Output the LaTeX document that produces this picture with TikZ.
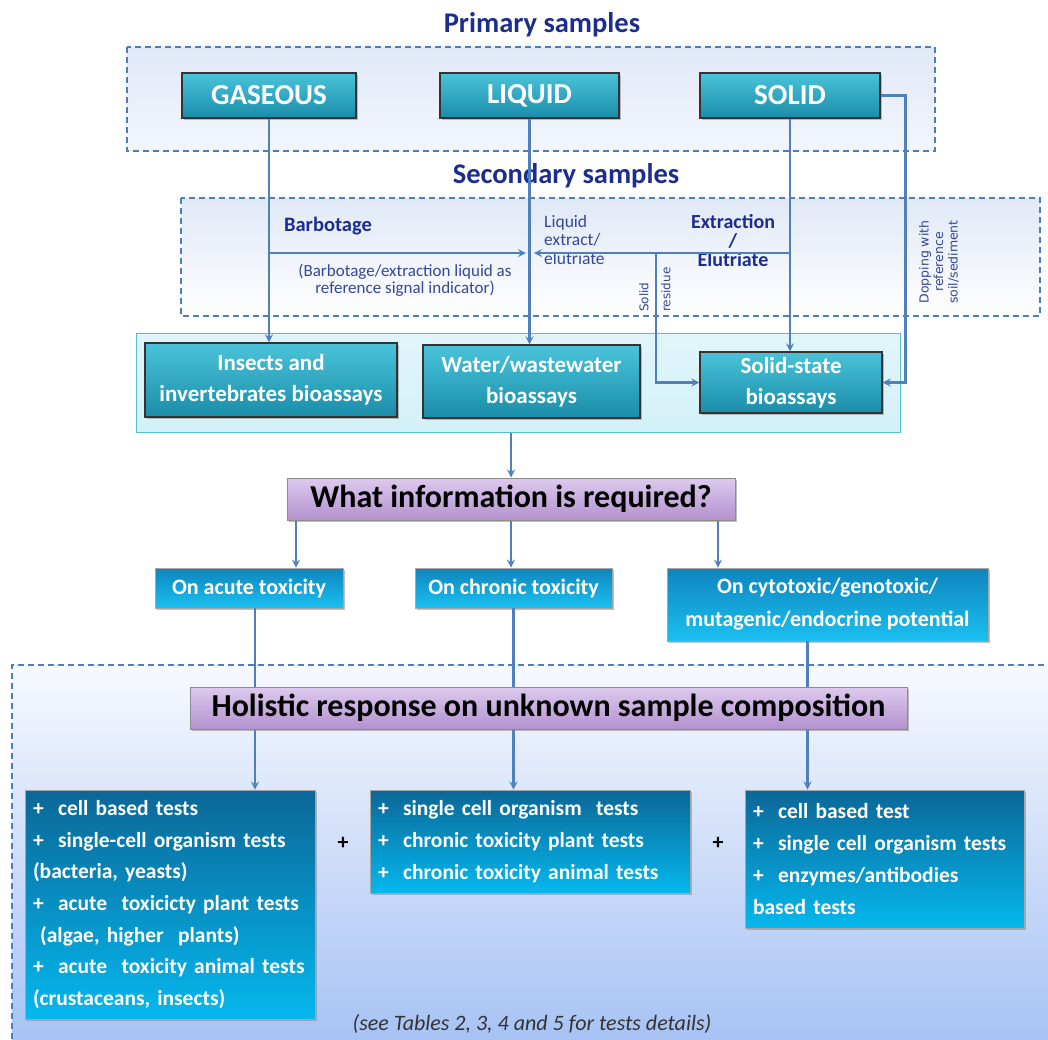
\documentclass[tikz,border=0pt]{standalone}
\usepackage{fontspec}
\setmainfont{Carlito}
\newfontfamily\dejavu{DejaVu Sans}
\usetikzlibrary{shadows}
\definecolor{navy}{HTML}{1C2D8E}
\definecolor{softnavy}{HTML}{34479A}
\definecolor{wirecol}{HTML}{4F7FBD}
\definecolor{framecol}{HTML}{4A7EC0}
\definecolor{tealtop}{HTML}{4AC3DA}
\definecolor{tealbot}{HTML}{1A8DA9}
\definecolor{lilactop}{HTML}{DDCAEE}
\definecolor{lilacbot}{HTML}{B391CE}
\definecolor{aimtop}{HTML}{0E85BE}
\definecolor{aimbot}{HTML}{1BC0F0}
\definecolor{testtop}{HTML}{0B6797}
\definecolor{testbot}{HTML}{05B8EE}
\definecolor{zonetop}{HTML}{E0E9F7}
\definecolor{zonebot}{HTML}{F3F6FC}
\definecolor{lowtop}{HTML}{F7F9FE}
\definecolor{lowbot}{HTML}{A7C3F4}
\definecolor{biofill}{HTML}{D3F1F8}
\definecolor{bioedge}{HTML}{56BFD2}

\begin{document}
\begin{tikzpicture}
[x=1pt,y=-1pt,%
  every node/.style={inner sep=2pt},%
  sample/.style={draw=black!80,line width=1.2pt,shading=axis,top color=tealtop,bottom color=tealbot,text=white,font=\fontsize{29}{31}\selectfont\bfseries,minimum height=45pt,drop shadow},%
  assay/.style={sample,font=\fontsize{23}{31}\selectfont\bfseries,align=center},%
  query/.style={draw=black!45,line width=1pt,shading=axis,top color=lilactop,bottom color=lilacbot,font=\fontsize{32}{34}\selectfont\bfseries,minimum height=42pt,drop shadow},%
  aim/.style={draw=black!35,line width=.8pt,shading=axis,top color=aimtop,bottom color=aimbot,text=white,font=\fontsize{22}{33}\selectfont\bfseries,align=center,drop shadow},%
  tests/.style={aim,top color=testtop,bottom color=testbot,align=left,inner xsep=8pt,font=\fontsize{21.5}{31.7}\selectfont\bfseries},%
  zone/.style={draw=framecol,line width=1.3pt,dash pattern=on 6pt off 4pt},%
  title/.style={text=navy,font=\fontsize{28.5}{30}\selectfont\bfseries},%
  remark/.style={text=softnavy,font=\fontsize{17}{16.5}\selectfont},%
  wire/.style={draw=wirecol,line width=2.5pt,->,>=stealth}]
\fill[white] (0,0) rectangle (1048,1039);
\useasboundingbox (0,0) rectangle (1048,1039);
\path[zone,shading=axis,top color=zonetop,bottom color=zonebot] (127,47) rectangle (935,151);
\path[zone,shading=axis,top color=zonetop,bottom color=white] (181,198) rectangle (1040,316);
\path[shading=axis,top color=lowtop,bottom color=lowbot] (12,665) rectangle (1048,1039);
\draw[zone] (12,1039) -- (12,665) -- (1048,665);
\node[title] (prim) at (542,25) {Primary samples};
\node[title] (sec) at (566,176) {Secondary samples};
\node[sample,minimum width=174pt] (gas) at (269,95.5) {GASEOUS};
\node[sample,minimum width=179pt] (liq) at (529.5,95.5) {LIQUID};
\node[sample,minimum width=180pt] (sol) at (790,95.5) {SOLID};
\node[draw=bioedge,line width=1pt,shading=axis,top color=biofill!70!white,bottom color=biofill,minimum width=764pt,minimum height=99pt] (bio) at (518,382.5) {};
\node[assay,minimum width=252pt,minimum height=74pt] (insect) at (271,380) {Insects and\\invertebrates bioassays};
\node[assay,minimum width=217pt,minimum height=73pt] (water) at (531.5,381.5) {Water/wastewater\\bioassays};
\node[assay,minimum width=182pt,minimum height=61pt] (solst) at (791,382.5) {Solid-state\\bioassays};
\node[remark,text=navy,font=\fontsize{20.5}{22}\selectfont\bfseries] (barb) at (328,226) {Barbotage};
\node[remark,align=left,anchor=north west,font=\fontsize{17.5}{18.5}\selectfont] (lex) at (542,213) {Liquid\\extract/\\elutriate};
\node[remark,text=navy,align=center,font=\fontsize{20}{19}\selectfont\bfseries] (extr) at (733,241) {Extraction\\/\\Elutriate};
\node[remark,align=center] (sig) at (405,280) {(Barbotage/extraction liquid as\\reference signal indicator)};
\node[remark,rotate=90,anchor=west,font=\dejavu\fontsize{12}{14}\selectfont] (resA) at (644,314) {Solid};
\node[remark,rotate=90,anchor=west,font=\dejavu\fontsize{12}{14}\selectfont] (resB) at (666,314) {residue};
\node[remark,rotate=90,align=center,font=\dejavu\fontsize{12.5}{14.5}\selectfont] (dop) at (939,262) {Dopping with\\reference\\soil/sediment};
\node[query,minimum width=448pt] (what) at (511,499) {What information is required?};
\node[aim,minimum width=188pt,minimum height=40pt] (acute) at (249,588) {On acute toxicity};
\node[aim,minimum width=197pt,minimum height=40pt] (chronic) at (513.5,588) {On chronic toxicity};
\node[aim,minimum width=321pt,minimum height=73pt] (cyto) at (827.5,604.5) {On cytotoxic/genotoxic/\\mutagenic/endocrine potential};
\node[tests,text width=274pt,minimum height=229pt] (testA) at (170,904.5) {+~~cell based tests\\+~~single-cell organism tests\\(bacteria, yeasts)\\+~~acute~~toxicicty plant tests\\~(algae, higher~~plants)\\+~~acute~~toxicity animal tests\\(crustaceans, insects)};
\node[tests,text width=304pt,minimum height=103pt] (testB) at (530,841.5) {+~~single cell organism~~tests\\+~~chronic toxicity plant tests\\+~~chronic toxicity animal tests};
\node[tests,text width=263pt,minimum height=138pt] (testC) at (884.5,859) {+~~cell based test\\+~~single cell organism tests\\+~~enzymes/antibodies\\based tests};
\node[font=\fontsize{22}{24}\selectfont\bfseries] (plusA) at (343,843) {+};
\node[font=\fontsize{22}{24}\selectfont\bfseries] (plusB) at (718,843) {+};
\node[font=\fontsize{22}{24}\selectfont\itshape,text=black!80] (see) at (532,1024) {(see Tables 2, 3, 4 and 5 for tests details)};
\coordinate (mix) at (530,253);
\coordinate (resid) at (656,253);
\path
(gas.south) edge[wire] (gas.south |- insect.north)
(liq.south) edge[wire] (liq.south |- water.north)
(sol.south) edge[wire] (sol.south |- solst.north)
(gas.south |- mix) edge[wire] ([xshift=-4pt]mix)
(sol.south |- mix) edge[wire] ([xshift=4pt]mix)
(what.north |- bio.south) edge[wire] (what.north)
([xshift=-215pt]what.south) edge[wire] ([xshift=-215pt]what.south |- acute.north)
(what.south) edge[wire] (what.south |- chronic.north)
([xshift=207pt]what.south) edge[wire] ([xshift=207pt]what.south |- cyto.north)
([xshift=6pt]acute.south) edge[wire] ([xshift=6pt]acute.south |- testA.north)
(chronic.south) edge[wire] (chronic.south |- testB.north)
([xshift=-20pt]cyto.south) edge[wire] ([xshift=-20pt]cyto.south |- testC.north);
\draw[wire] (resid) |- (solst.west);
\draw[wire] (sol.east) -- ++(25,0) |- (solst.east);
\node[query,minimum width=717pt] (holistic) at (548.5,708) {Holistic response on unknown sample composition};
\end{tikzpicture}
\end{document}
